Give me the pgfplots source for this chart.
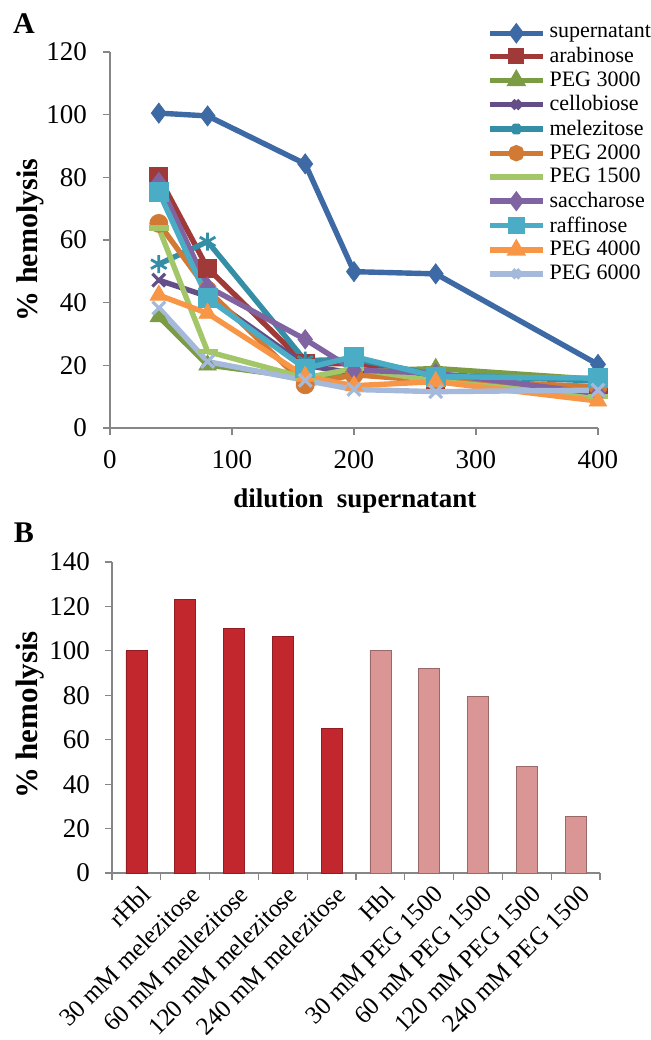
\documentclass[border=0pt]{standalone}
\usepackage{fontspec}
\setmainfont{Liberation Serif}
\usepackage{pgfplots}
\pgfplotsset{compat=1.18}
\definecolor{axisgrey}{RGB}{134,134,134}
\definecolor{cSup}{RGB}{61,106,165}
\definecolor{cAra}{RGB}{160,58,56}
\definecolor{cP3}{RGB}{124,156,68}
\definecolor{cCel}{RGB}{100,78,135}
\definecolor{cMel}{RGB}{52,142,166}
\definecolor{cP2}{RGB}{210,121,52}
\definecolor{cP15}{RGB}{163,199,104}
\definecolor{cSac}{RGB}{128,100,162}
\definecolor{cRaf}{RGB}{75,172,198}
\definecolor{cP4}{RGB}{247,150,70}
\definecolor{cP6}{RGB}{165,185,219}
\definecolor{barred}{RGB}{193,39,45}
\definecolor{barpink}{RGB}{217,150,148}
\begin{document}
\begin{tikzpicture}
\path[use as bounding box] (0,0) rectangle (325.5pt,-520pt);
\node[font=\bfseries\fontsize{15}{16}\selectfont] at (12pt,-12pt) {A};
\node[font=\bfseries\fontsize{15}{16}\selectfont] at (12pt,-266.5pt) {B};
\begin{axis}[
 at={(55pt,-214pt)}, anchor=south west, scale only axis, width=244pt, height=188pt,
 xmin=0, xmax=400, ymin=0, ymax=120,
 xtick={0,100,...,400}, ytick={0,20,...,120},
 axis x line*=bottom, axis y line*=left,
 axis line style={draw=axisgrey, line width=0.6pt},
 tick style={draw=axisgrey, line width=0.6pt},
 tick align=outside, major tick length=3.5pt,
 tick label style={font=\fontsize{13.5}{15}\selectfont},
 x tick label style={yshift=-4pt},
 y tick label style={xshift=-4.5pt},
 /pgf/number format/assume math mode=true,
 xlabel={dilution\ \ supernatant}, ylabel={\% hemolysis},
 xlabel style={font=\bfseries\fontsize{13.5}{15}\selectfont, at={(axis description cs:0.502,-0.194)}, anchor=center},
 ylabel style={font=\bfseries\fontsize{15}{16}\selectfont, at={(axis description cs:-0.164,0.5)}, anchor=center},
 legend style={at={(0.772,1.082)}, anchor=north west, draw=none, fill=none,
   font=\fontsize{11}{12}\selectfont, row sep=-0.9pt, inner sep=0pt},
 legend cell align=left,
 legend image code/.code={\draw[mark repeat=2,mark phase=2,#1,mark options={scale=0.6}] plot coordinates {(0pt,0pt)(13.25pt,0pt)(26.5pt,0pt)};},
 every axis plot/.append style={line width=2.7pt},
 clip=false,
]
\addplot[cSup, mark=diamond*, mark size=5pt, mark options={line width=0.4pt}] coordinates {(40,100.5)(80,99.6)(160,84.3)(200,49.9)(267,49.2)(400,20.3)};
\addlegendentry{supernatant}
\addplot[cAra, mark=square*, mark size=4.5pt, mark options={line width=0.4pt}] coordinates {(40,80.2)(80,51)(160,20.5)(200,20.5)(267,15.5)(400,13)};
\addlegendentry{arabinose}
\addplot[cP3, mark=triangle*, mark size=5pt, mark options={line width=0.4pt}] coordinates {(40,35.5)(80,20.1)(160,16)(200,18)(267,19)(400,15.5)};
\addlegendentry{PEG 3000}
\addplot[cCel, mark=x, mark size=4.5pt, mark options={line width=1.6pt}] coordinates {(40,47.2)(80,42)(160,20)(200,17.5)(267,16.5)(400,12)};
\addlegendentry{cellobiose}
\addplot[cMel, mark=asterisk, mark size=4.5pt, mark options={line width=1.4pt}] coordinates {(40,52.3)(80,59.5)(160,21.5)(200,22)(267,17)(400,15)};
\addlegendentry{melezitose}
\addplot[cP2, mark=*, mark size=4.5pt, mark options={line width=0.4pt}] coordinates {(40,65.3)(80,44)(160,13.8)(200,17)(267,15)(400,13.2)};
\addlegendentry{PEG 2000}
\addplot[cP15, mark=-, mark size=5pt, mark options={line width=2.8pt}] coordinates {(40,63.8)(80,24.4)(160,16)(200,19)(267,15)(400,10)};
\addlegendentry{PEG 1500}
\addplot[cSac, mark=diamond*, mark size=4.8pt, mark options={line width=0.4pt}] coordinates {(40,78.5)(80,45.1)(160,28.3)(200,18.5)(267,17.5)(400,11)};
\addlegendentry{saccharose}
\addplot[cRaf, mark=square*, mark size=4.7pt, mark options={line width=0.4pt}] coordinates {(40,75.4)(80,41.4)(160,19)(200,22.8)(267,16.4)(400,15.9)};
\addlegendentry{raffinose}
\addplot[cP4, mark=triangle*, mark size=5pt, mark options={line width=0.4pt}] coordinates {(40,42.4)(80,36.6)(160,16.5)(200,13.5)(267,14.8)(400,8.6)};
\addlegendentry{PEG 4000}
\addplot[cP6, mark=x, mark size=4.5pt, mark options={line width=1.6pt}] coordinates {(40,38.3)(80,21.2)(160,15.2)(200,12.3)(267,11.6)(400,12.1)};
\addlegendentry{PEG 6000}
\end{axis}
\begin{axis}[
 at={(56pt,-436.5pt)}, anchor=south west, scale only axis, width=244pt, height=155.5pt,
 xmin=-0.5, xmax=9.5, ymin=0, ymax=140, ytick={0,20,...,140},
 xtick={0,...,9},
 xticklabels={rHbl, 30 mM melezitose, 60 mM mellezitose, 120 mM melezitose, 240 mM melezitose, Hbl, 30 mM PEG 1500, 60 mM PEG 1500, 120 mM PEG 1500, 240 mM PEG 1500},
 minor xtick={-0.5,0.5,...,9.5},
 axis x line*=bottom, axis y line*=left,
 axis line style={draw=axisgrey, line width=0.6pt},
 tick style={draw=axisgrey, line width=0.6pt},
 major x tick style={draw=none},
 minor x tick style={draw=axisgrey, line width=0.6pt},
 tick align=outside, major tick length=3.5pt, minor tick length=3.5pt,
 tick label style={font=\fontsize{13.5}{15}\selectfont},
 y tick label style={xshift=-4pt},
 x tick label style={font=\fontsize{12.5}{14}\selectfont, rotate=45, anchor=north east, inner sep=1pt, yshift=-1.5pt, xshift=1pt},
 /pgf/number format/assume math mode=true,
 ylabel={\% hemolysis},
 ylabel style={font=\bfseries\fontsize{15.5}{17}\selectfont, at={(axis description cs:-0.168,0.508)}, anchor=center},
 ybar, bar width=10.5pt, bar shift=0pt,
]
\addplot[draw=barred!75!black, line width=0.4pt, fill=barred] coordinates {(0,100)(1,123)(2,110)(3,106.5)(4,65)};
\addplot[draw=barpink!70!black, line width=0.4pt, fill=barpink] coordinates {(5,100)(6,92)(7,79.5)(8,48)(9,25.5)};
\end{axis}
\end{tikzpicture}
\end{document}
